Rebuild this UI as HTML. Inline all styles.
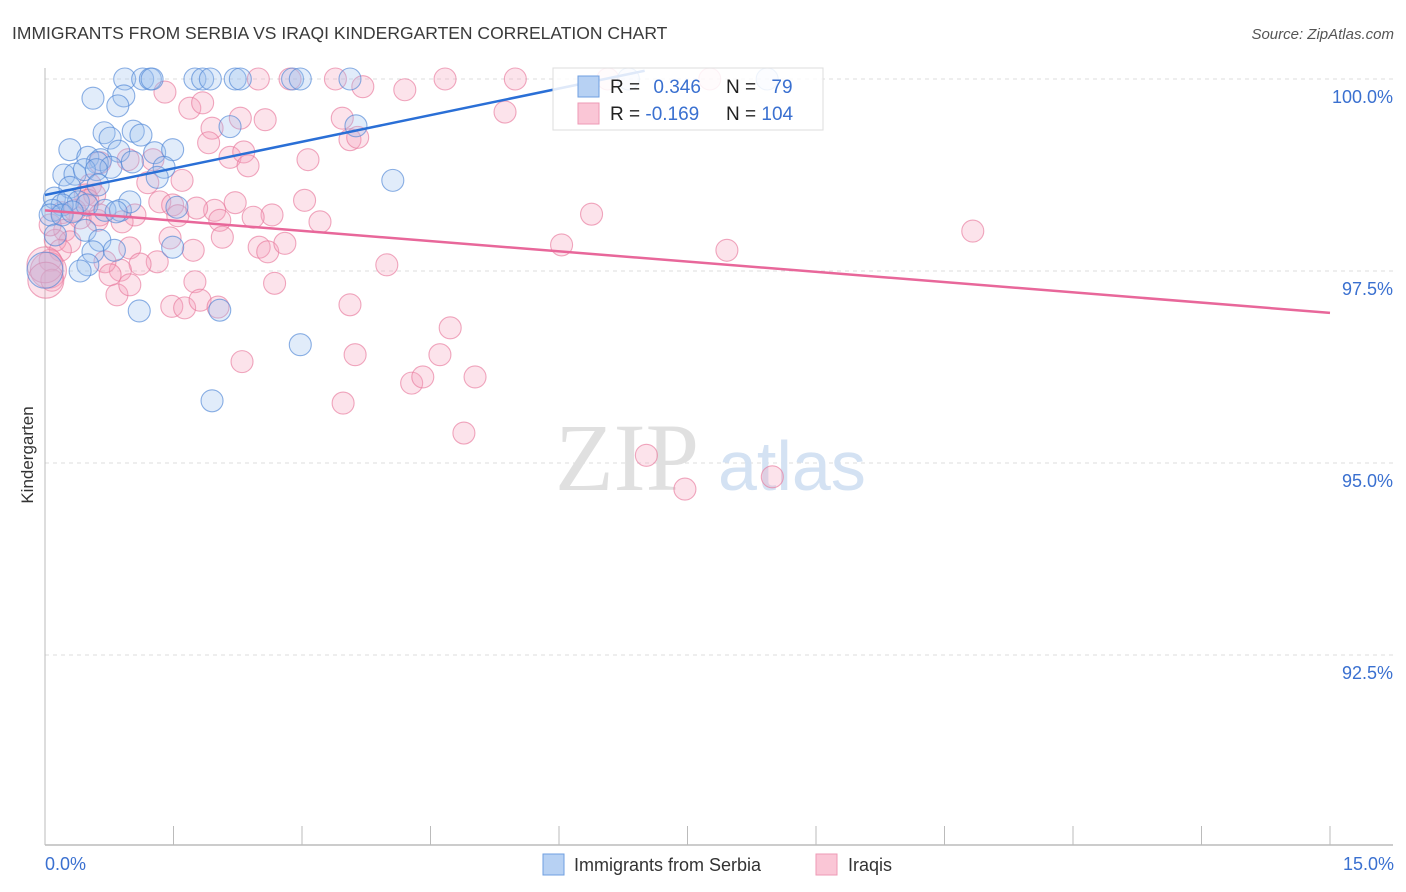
<!DOCTYPE html>
<html><head><meta charset="utf-8"><style>
body{margin:0;background:#fff;font-family:"Liberation Sans",sans-serif;}
svg{display:block}
</style></head><body>
<svg id="chart" width="1406" height="892" xmlns="http://www.w3.org/2000/svg">
<text x="12" y="39" font-size="17.5" fill="#3a3a3a">IMMIGRANTS FROM SERBIA VS IRAQI KINDERGARTEN CORRELATION CHART</text>
<text x="1394" y="39" font-size="15" fill="#555" font-style="italic" text-anchor="end">Source: ZipAtlas.com</text>
<text transform="translate(33,455) rotate(-90)" font-size="17" fill="#333" text-anchor="middle">Kindergarten</text>
<g id="grid"></g>
<text x="555" y="490" font-size="96" fill="#e0e0e0" font-family="Liberation Serif,serif">ZIP</text>
<text x="718" y="490" font-size="70" fill="#d4e2f3">atlas</text>
<g id="pts"></g>
<g id="lines"></g>
<g>
<rect x="553" y="68" width="270" height="62" fill="#fff" fill-opacity="0.85" stroke="#ddd"/>
<rect x="578" y="76" width="21" height="21" fill="#b7d1f3" stroke="#6f9fe0"/>
<rect x="578" y="103" width="21" height="21" fill="#fac6d6" stroke="#ee9ab5"/>
<text x="610" y="93" font-size="19" fill="#222">R = <tspan fill="#3a70d0" dx="8">0.346</tspan></text>
<text x="726" y="93" font-size="19" fill="#222">N = <tspan fill="#3a70d0" dx="10">79</tspan></text>
<text x="610" y="120" font-size="19" fill="#222">R = <tspan fill="#3a70d0">-0.169</tspan></text>
<text x="726" y="120" font-size="19" fill="#222">N = <tspan fill="#3a70d0">104</tspan></text>
</g>
<text x="45" y="870" font-size="18" fill="#3a70d0">0.0%</text>
<text x="1394" y="870" font-size="18" fill="#3a70d0" text-anchor="end">15.0%</text>
<rect x="543" y="854" width="21" height="21" fill="#b7d1f3" stroke="#6f9fe0"/>
<text x="574" y="871" font-size="18" fill="#333">Immigrants from Serbia</text>
<rect x="816" y="854" width="21" height="21" fill="#fac6d6" stroke="#ee9ab5"/>
<text x="848" y="871" font-size="18" fill="#333">Iraqis</text>
</svg>
<script>
const yTicks=[100,97.5,95,92.5];
const yTickLabels=["100.0%","97.5%","95.0%","92.5%"];
const xTicks=[0,1.5,3,4.5,6,7.5,9,10.5,12,13.5,15];
const serbiaX=[0.93,1.14,1.23,1.25,1.75,1.84,1.93,2.22,2.28,2.89,2.98,3.56,6.81,8.43,0.56,0.92,0.85,0.69,1.03,0.76,1.12,0.29,0.86,1.28,1.49,0.50,0.65,0.61,1.02,0.22,0.35,0.46,0.77,0.60,1.39,1.31,2.16,3.63,4.06,0.29,0.62,0.11,0.27,0.39,0.20,0.09,0.49,0.70,0.88,0.99,1.54,0.83,0.06,0.20,0.32,0.47,0.12,0.64,0.56,0.81,1.49,0.50,0.41,1.10,2.04,2.98,1.95,0];
const serbiaY=[100,100,100,100,100,100,100,100,100,100,100,100,100,100,99.75,99.78,99.65,99.30,99.32,99.23,99.27,99.08,99.06,99.04,99.08,98.98,98.95,98.91,98.92,98.75,98.76,98.82,98.85,98.82,98.85,98.72,99.38,99.39,98.68,98.59,98.62,98.45,98.42,98.40,98.36,98.29,98.36,98.29,98.29,98.40,98.33,98.27,98.23,98.23,98.27,98.03,97.97,97.90,97.75,97.77,97.81,97.58,97.50,96.98,96.99,96.54,95.81,97.51];
const iraqX=[1.69,1.84,2.28,2.57,1.95,1.91,2.16,2.32,3.07,1.40,2.49,2.86,3.39,3.71,4.20,4.67,5.49,5.37,6.57,7.76,3.47,3.56,3.65,2.37,1.60,1.26,1.20,0.97,0.64,0.53,0.47,0.58,3.03,2.22,1.98,1.77,1.34,1.49,2.65,2.43,2.04,3.21,1.55,1.05,0.90,0.61,0.41,0.20,0.23,0.29,0.12,0.18,0.06,0.04,0.08,0.99,1.46,1.73,2.07,2.50,2.60,2.80,1.31,1.11,0.88,0.70,0.76,0.84,0.99,1.75,2.68,3.99,1.48,1.63,1.81,2.02,3.56,4.73,2.30,3.62,4.61,5.02,4.28,4.41,3.48,4.89,7.02,7.47,8.49,6.03,7.96,10.83,6.38,0,0.01,0.06,0.35,0.50,0.64];
const iraqY=[99.62,99.69,99.49,99.47,99.36,99.17,98.98,99.05,98.95,99.83,100,100,100,99.90,99.86,100,100,99.57,100,100,99.49,99.21,99.24,98.87,98.68,98.95,98.65,98.95,98.91,98.62,98.49,98.49,98.42,98.39,98.29,98.32,98.40,98.36,98.23,98.20,98.16,98.14,98.22,98.23,98.14,98.16,98.19,98.26,98.03,97.88,97.90,97.77,97.64,97.51,97.38,97.80,97.93,97.77,97.94,97.81,97.75,97.86,97.62,97.59,97.51,97.62,97.45,97.19,97.32,97.36,97.34,97.58,97.04,97.02,97.12,97.03,97.06,96.76,96.32,96.41,96.41,96.12,96.04,96.12,95.78,95.39,95.10,94.66,94.82,97.84,97.77,98.02,98.24,97.58,97.38,98.10,98.29,98.42,98.23];
const serbiaTrend=[98.49,0.231];
const iraqTrend=[98.29,-0.089];
const NS="http://www.w3.org/2000/svg";
const X0=45,X1=1330,Y0=79,PXY=76.8;
function xs(v){return X0+(v/15)*(X1-X0);}
function ys(v){return Y0+(100-v)*PXY;}
function mk(tag,attrs,parent){const e=document.createElementNS(NS,tag);for(const k in attrs)e.setAttribute(k,attrs[k]);parent.appendChild(e);return e;}
const grid=document.getElementById('grid');
yTicks.forEach((t,i)=>{
 const l=mk('line',{x1:X0,x2:1393,y1:ys(t),y2:ys(t),stroke:'#ddd','stroke-dasharray':'4,4'},grid);
 
 
 const tx=mk('text',{x:1393,y:ys(t)+24,'font-size':18,fill:'#3a70d0','text-anchor':'end'},grid);
 tx.textContent=yTickLabels[i];
 
 
});
const ax=mk('line',{x1:X0,x2:X0,y1:68,y2:845,stroke:'#bbb'},grid);


const bx=mk('line',{x1:X0,x2:1393,y1:845,y2:845,stroke:'#bbb','stroke-width':1.5},grid);


xTicks.forEach(t=>{
 const l=mk('line',{x1:xs(t),x2:xs(t),y1:826,y2:845,stroke:'#bbb'},grid);
 
 
});
const pts=document.getElementById('pts');
function drawSeries(X,Y,fill,stroke,name){
 X.forEach((x,i)=>{
  const r=(x<0.05&&Y[i]<97.7)?18:11;
  const c=mk('circle',{cx:xs(x),cy:ys(Y[i]),r:r,fill:fill,'fill-opacity':0.3,stroke:stroke,'stroke-width':1.1,'stroke-opacity':0.65},pts);
  
  
 });
}
drawSeries(iraqX,iraqY,'#f4a3bd','#e8799d','iraqis-point');
drawSeries(serbiaX,serbiaY,'#9cc0ee','#4f86d6','serbia-point');
const lines=document.getElementById('lines');
const bl=mk('line',{x1:xs(0),y1:ys(serbiaTrend[0]),x2:xs(7),y2:ys(serbiaTrend[0]+serbiaTrend[1]*7),stroke:'#2a6fd6','stroke-width':2.5},lines);


const pl=mk('line',{x1:xs(0),y1:ys(iraqTrend[0]),x2:xs(15),y2:ys(iraqTrend[0]+iraqTrend[1]*15),stroke:'#e8679a','stroke-width':2.5},lines);


</script>
</body></html>
